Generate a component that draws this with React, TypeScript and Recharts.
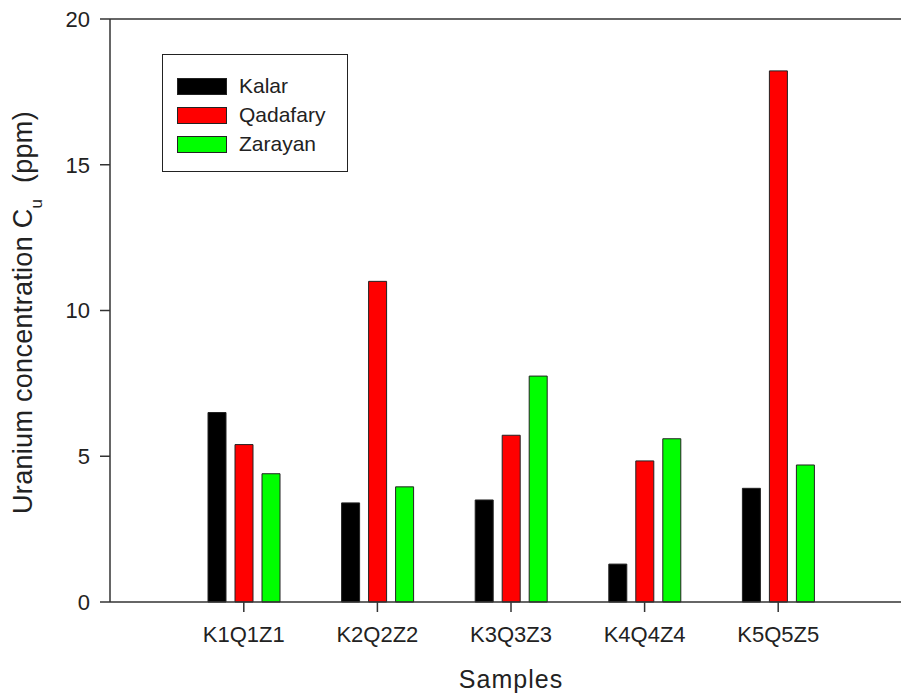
import React from 'react';
import { BarChart, Bar, XAxis, YAxis, Legend, ReferenceLine } from 'recharts';

const categories = ['K1Q1Z1', 'K2Q2Z2', 'K3Q3Z3', 'K4Q4Z4', 'K5Q5Z5'];
const kalar = [6.5, 3.4, 3.5, 1.3, 3.9];
const qadafary = [5.4, 11.0, 5.72, 4.84, 18.22];
const zarayan = [4.4, 3.95, 7.75, 5.6, 4.7];
const yTicks = [0, 5, 10, 15, 20];

const data = categories.map((c, i) => ({
  name: c,
  Kalar: kalar[i],
  Qadafary: qadafary[i],
  Zarayan: zarayan[i],
}));

const FONT = 'Arial, "Liberation Sans", sans-serif';
const TEXT = '#222';
const AXIS = '#333';

const renderLegend = (props: any) => {
  const payload = props.payload || [];
  return (
    <div
      style={{
        width: 184,
        height: 116,
        border: '1.5px solid #222',
        background: '#fff',
        position: 'relative',
        fontFamily: FONT,
        fontSize: 21,
        color: TEXT,
      }}
    >
      {payload.map((p: any, i: number) => (
        <div key={p.value} style={{ position: 'absolute', left: 14, top: 22 + i * 29, height: 18, display: 'flex', alignItems: 'center' }}>
          <div style={{ width: 50, height: 17, background: p.color, border: '1px solid #222', boxSizing: 'border-box' }} />
          <span style={{ marginLeft: 12, lineHeight: '18px' }}>{p.value}</span>
        </div>
      ))}
    </div>
  );
};

const YLabel = (props: any) => {
  const vb = props.viewBox || {};
  const bx = 32;
  const cy = (vb.y ?? 19) + (vb.height ?? 583) / 2 + 2;
  return (
    <text
      x={bx}
      y={cy}
      transform={`rotate(-90, ${bx}, ${cy})`}
      textAnchor="middle"
      fill={TEXT}
      style={{ fontFamily: FONT, fontSize: 27, letterSpacing: 0.3 }}
    >
      Uranium concentration C
      <tspan baselineShift="sub" fontSize={17}>u</tspan>
      <tspan>{'\u00a0\u00a0(ppm)'}</tspan>
    </text>
  );
};

export default function App() {
  return (
    <div style={{ position: 'fixed', left: 0, top: 0, width: 901, height: 700, overflow: 'hidden', background: '#fff' }}>
      <BarChart
        width={920}
        height={700}
        data={data}
        margin={{ top: 19, right: 8, bottom: 0, left: 0 }}
        barSize={18}
        barGap={9}
      >
        <XAxis
          dataKey="name"
          padding={{ left: 67, right: 67 }}
          height={98}
          tickSize={10}
          tickMargin={14}
          axisLine={{ stroke: AXIS, strokeWidth: 1.5 }}
          tickLine={{ stroke: AXIS, strokeWidth: 1.5 }}
          tick={{ fill: TEXT, fontSize: 22, fontFamily: FONT }}
          label={{ value: 'Samples', position: 'insideBottom', offset: 12, fill: TEXT, fontSize: 25, fontFamily: FONT, style: { letterSpacing: 1 } }}
        />
        <YAxis
          width={110}
          domain={[0, 20]}
          ticks={yTicks}
          tickSize={10}
          tickMargin={10}
          axisLine={{ stroke: AXIS, strokeWidth: 1.5 }}
          tickLine={{ stroke: AXIS, strokeWidth: 1.5 }}
          tick={{ fill: TEXT, fontSize: 22, fontFamily: FONT }}
          label={<YLabel />}
        />
        <ReferenceLine y={20} stroke={AXIS} strokeWidth={1.5} />
        <Legend
          layout="vertical"
          align="center"
          verticalAlign="middle"
          content={renderLegend}
          wrapperStyle={{ position: 'absolute', left: 162, top: 54, width: 187, height: 119 }}
        />
        <Bar dataKey="Kalar" fill="#000000" stroke="#222" strokeWidth={1} isAnimationActive={false} />
        <Bar dataKey="Qadafary" fill="#ff0000" stroke="#222" strokeWidth={1} isAnimationActive={false} />
        <Bar dataKey="Zarayan" fill="#00ff00" stroke="#222" strokeWidth={1} isAnimationActive={false} />
      </BarChart>
    </div>
  );
}
